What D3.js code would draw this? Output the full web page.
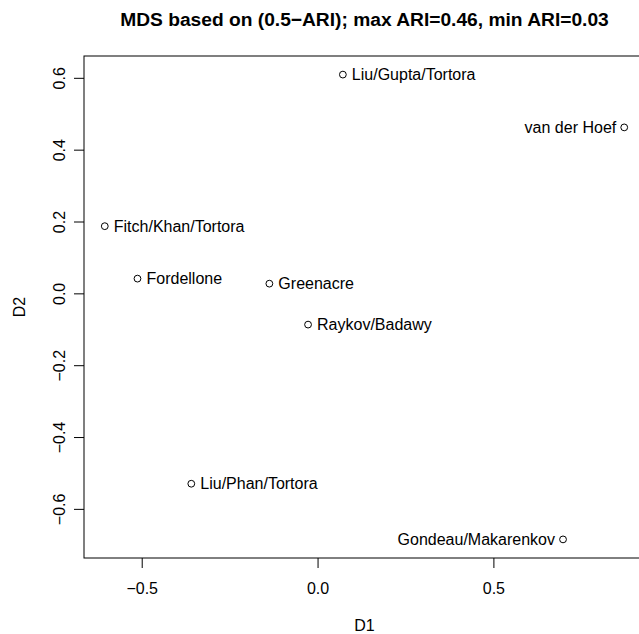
<!DOCTYPE html>
<html>
<head>
<meta charset="utf-8">
<script src="https://cdn.jsdelivr.net/npm/d3@7"></script>
<style>
  html, body { margin: 0; padding: 0; background: #fff; }
  svg { display: block; font-family: "Liberation Sans", Arial, Helvetica, sans-serif; }
</style>
</head>
<body>
<svg id="chart" width="639" height="634"></svg>
<script>
// MDS coordinates of each method
const methods = ["Liu/Gupta/Tortora", "van der Hoef", "Fitch/Khan/Tortora", "Fordellone",
                 "Greenacre", "Raykov/Badawy", "Liu/Phan/Tortora", "Gondeau/Makarenkov"];
const d1 = [0.072, 0.872, -0.605, -0.512, -0.137, -0.027, -0.359, 0.698];
const d2 = [0.609, 0.462, 0.187, 0.041, 0.027, -0.087, -0.530, -0.685];
// label placement: "right" or "left" of the point
const labelSide = ["right", "left", "right", "right", "right", "right", "right", "left"];

const xTicks = [-0.5, 0.0, 0.5];
const yTicks = [-0.6, -0.4, -0.2, 0.0, 0.2, 0.4, 0.6];

const titleText = "MDS based on (0.5\u2212ARI); max ARI=0.46, min ARI=0.03";
const xLabel = "D1";
const yLabel = "D2";

const svg = d3.select("#chart");
const W = 639, H = 634;
const box = { left: 84, right: 645, top: 56, bottom: 558 };
const fontSize = 16;

// axis limits padded by 4% on each side
function padded(vals) {
  const [lo, hi] = d3.extent(vals);
  const p = (hi - lo) * 0.04;
  return [lo - p, hi + p];
}

const x = d3.scaleLinear().domain(padded(d1)).range([box.left, box.right]);
const y = d3.scaleLinear().domain(padded(d2)).range([box.bottom, box.top]);

const fmt = v => (v < 0 ? "\u2212" : "") + Math.abs(v).toFixed(1);

svg.append("rect").attr("width", W).attr("height", H).attr("fill", "#fff");

// x axis
const xAxis = d3.axisBottom(x).tickValues(xTicks).tickFormat(fmt).tickSize(10).tickPadding(0);
const gx = svg.append("g").attr("transform", `translate(0,${box.bottom})`).call(xAxis);
gx.select(".domain").remove();
gx.selectAll(".tick line").attr("stroke", "#000");
gx.selectAll(".tick text")
  .attr("font-size", fontSize).attr("font-family", null).attr("fill", "#000")
  .attr("y", 36).attr("dy", null);

// y axis
const yAxis = d3.axisLeft(y).tickValues(yTicks).tickFormat(fmt).tickSize(10).tickPadding(0);
const gy = svg.append("g").attr("transform", `translate(${box.left},0)`).call(yAxis);
gy.select(".domain").remove();
gy.selectAll(".tick line").attr("stroke", "#000");
gy.selectAll(".tick text")
  .attr("font-size", fontSize).attr("font-family", null).attr("fill", "#000")
  .attr("x", null).attr("dy", null)
  .attr("text-anchor", "middle")
  .attr("transform", "translate(-19,0) rotate(-90)");

// plot frame
svg.append("rect")
  .attr("x", box.left).attr("y", box.top)
  .attr("width", box.right - box.left).attr("height", box.bottom - box.top)
  .attr("fill", "none").attr("stroke", "#000").attr("stroke-width", 1);

// points
const rows = methods.map((m, i) => ({ name: m, d1: d1[i], d2: d2[i], side: labelSide[i] }));

svg.append("g").selectAll("circle").data(rows).join("circle")
  .attr("cx", d => x(d.d1)).attr("cy", d => y(d.d2)).attr("r", 3.4)
  .attr("fill", "none").attr("stroke", "#000").attr("stroke-width", 1);

svg.append("g").selectAll("text").data(rows).join("text")
  .attr("x", d => x(d.d1) + (d.side === "right" ? 9 : -8))
  .attr("y", d => y(d.d2))
  .attr("dy", "0.35em")
  .attr("text-anchor", d => d.side === "right" ? "start" : "end")
  .attr("font-size", fontSize).attr("fill", "#000")
  .text(d => d.name);

// titles
const cx = (box.left + box.right) / 2;
const cy = (box.top + box.bottom) / 2;
svg.append("text").attr("x", cx).attr("y", 26).attr("text-anchor", "middle")
  .attr("font-size", 19.2).attr("font-weight", "bold").attr("fill", "#000").text(titleText);
svg.append("text").attr("x", cx).attr("y", 631).attr("text-anchor", "middle")
  .attr("font-size", fontSize).attr("fill", "#000").text(xLabel);
svg.append("text").attr("transform", `translate(25,${cy}) rotate(-90)`).attr("text-anchor", "middle")
  .attr("font-size", fontSize).attr("fill", "#000").text(yLabel);
</script>
</body>
</html>
